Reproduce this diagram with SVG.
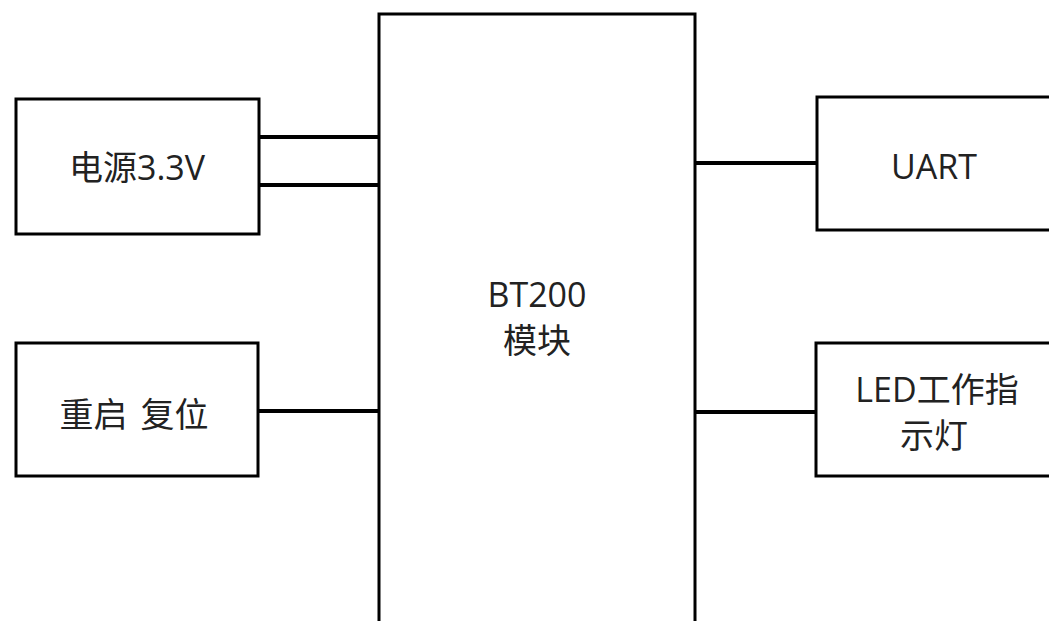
<svg xmlns="http://www.w3.org/2000/svg" width="1049" height="621" viewBox="0 0 1049 621">
<style>
.box{fill:#fff;stroke:#000;stroke-width:3}
.wire{stroke:#000;stroke-width:4;fill:none}
.t{font-family:"Open Sans","Noto Sans CJK SC",sans-serif;font-size:34px;fill:#222;text-anchor:middle}
</style>
<rect width="1049" height="621" fill="#fff"/>
<g id="bt200">
<rect class="box" x="379" y="14" width="316" height="620"/>
<text class="t" x="537" y="307">BT200</text>
<text class="t" x="537" y="353">模块</text>
</g>
<g id="power">
<rect class="box" x="16" y="99" width="243" height="135"/>
<text class="t" x="137" y="180">电源3.3V</text>
</g>
<g id="reset">
<rect class="box" x="16" y="343" width="242" height="133"/>
<text class="t" x="134" y="427" font-size="35">重启 <tspan dx="4">复位</tspan></text>
</g>
<g id="uart">
<rect class="box" x="817" y="97" width="240" height="133"/>
<text class="t" x="934" y="179">UART</text>
</g>
<g id="led">
<rect class="box" x="816" y="343" width="240" height="133"/>
<text class="t" x="937" y="402">LED工作指</text>
<text class="t" x="934" y="448">示灯</text>
</g>
<g id="connectors">
<line class="wire" x1="259" y1="137" x2="379" y2="137"/>
<line class="wire" x1="259" y1="185" x2="379" y2="185"/>
<line class="wire" x1="258" y1="411" x2="379" y2="411"/>
<line class="wire" x1="695" y1="163" x2="817" y2="163"/>
<line class="wire" x1="695" y1="412" x2="816" y2="412"/>
</g>
</svg>
